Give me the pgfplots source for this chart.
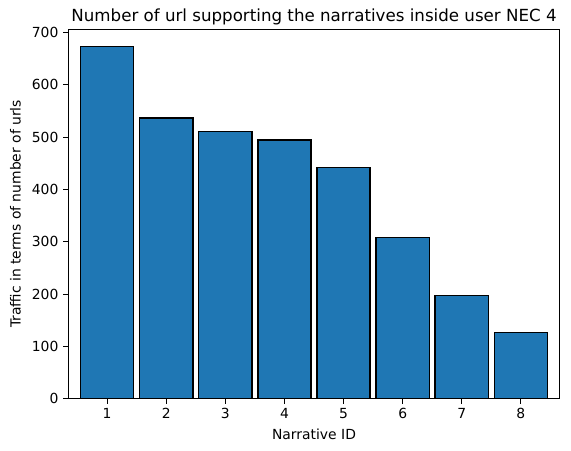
\documentclass[border=0pt]{standalone}
\usepackage{fontspec}
\setmainfont{DejaVu Sans}
\usepackage{pgfplots}
\pgfplotsset{compat=1.18}
\definecolor{mplblue}{HTML}{1F77B4}

\begin{document}
\begin{tikzpicture}
\begin{axis}[
  scale only axis,
  width=354pt,
  height=266pt,
  xmin=0.34, xmax=8.66,
  ymin=0, ymax=706.7,
  xtick={1,...,8},
  ytick={0,100,...,700},
  tick align=outside,
  major tick length=3.5pt,
  tick style={black, line width=0.8pt},
  axis line style={line width=0.8pt},
  xtick pos=bottom, ytick pos=left,
  tick label style={font=\fontsize{10}{12}\selectfont},
  /pgf/number format/assume math mode=true,
  title={Number of url supporting the narratives inside user NEC 4},
  title style={font=\fontsize{12}{14}\selectfont, yshift=-6.5pt},
  xlabel={Narrative ID},
  ylabel={Traffic in terms of number of urls},
  label style={font=\fontsize{10}{12}\selectfont},
  ylabel style={yshift=1pt},
]
\addplot[ybar, bar width=0.9, bar shift=0pt, fill=mplblue, draw=black, line width=1pt] coordinates {
  (1,673) (2,537) (3,511) (4,495) (5,442) (6,308) (7,197) (8,126)
};
\end{axis}
% padding like savefig's pad_inches
\path (current bounding box.south west) +(-4pt,-5pt)
      (current bounding box.north east) +(7pt,3pt);
\end{tikzpicture}
\end{document}
